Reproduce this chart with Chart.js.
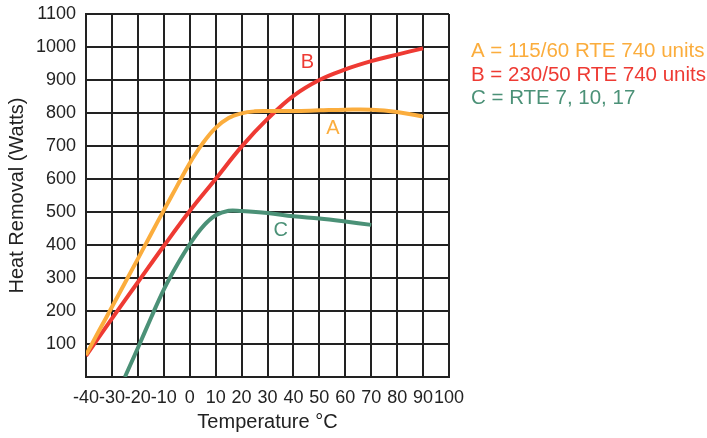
<!DOCTYPE html>
<html>
<head>
<meta charset="utf-8">
<script src="https://cdn.jsdelivr.net/npm/chart.js@4"></script>
<style>
html,body{margin:0;padding:0;background:#fff;}
#wrap{width:707px;height:438px;position:relative;}
</style>
</head>
<body>
<div id="wrap"><canvas id="c" width="707" height="438"></canvas></div>
<script>
// ---- data ----
const tempA = [-40,-35,-30,-25,-20,-15,-10,-5,0,5,10,15,20,25,30,40,50,60,70,80,90];
const heatA = [67,140,212,285,358,432,505,577,648,708,755,785,799,805,806,806,808,810,810,803,789];

const tempB = [-40,-30,-20,-10,0,10,20,30,40,50,60,70,80,90];
const heatB = [64,177,287,397,503,600,698,782,852,900,932,957,977,996];

const tempC = [-25,-20,-15,-10,-5,0,5,10,15,20,30,40,50,60,70];
const heatC = [0,88,178,265,338,402,455,490,504,503,497,487,480,471,461];

const seriesNames = ['A','B','C'];
const legendLines = ['A = 115/60 RTE 740 units','B = 230/50 RTE 740 units','C = RTE 7, 10, 17'];
const curveLabelX = [55.2, 45.4, 35.1];
const curveLabelY = [753, 953, 444];

const xMin = -40, xMax = 100, xStep = 10;
const yMin = 0, yMax = 1100, yStep = 100;
const xTitle = 'Temperature °C';
const yTitle = 'Heat Removal (Watts)';

const colors = ['#FBAD3D','#EE3A33','#4B9177'];
const FONT = "'Liberation Sans', Arial, sans-serif";

function pts(xs, ys){ return xs.map((x,i)=>({x:x,y:ys[i]})); }

const labelPlugin = {
  id:'labels',
  afterDatasetsDraw(chart){
    const ctx = chart.ctx, xs = chart.scales.x, ys = chart.scales.y;
    ctx.save();
    ctx.font = '20px ' + FONT;
    ctx.textAlign = 'center';
    ctx.textBaseline = 'middle';
    seriesNames.forEach((n,i)=>{
      ctx.fillStyle = colors[i];
      ctx.fillText(n, xs.getPixelForValue(curveLabelX[i]), ys.getPixelForValue(curveLabelY[i]));
    });
    ctx.textAlign = 'left';
    ctx.textBaseline = 'alphabetic';
    ctx.font = '20.5px ' + FONT;
    legendLines.forEach((t,i)=>{
      ctx.fillStyle = colors[i];
      ctx.fillText(t, 471, 57 + i*23.5);
    });
    ctx.restore();
  }
};

new Chart(document.getElementById('c'), {
  type:'scatter',
  data:{
    datasets:[
      {label:'A', data:pts(tempA,heatA), borderColor:colors[0]},
      {label:'B', data:pts(tempB,heatB), borderColor:colors[1]},
      {label:'C', data:pts(tempC,heatC), borderColor:colors[2]}
    ].map(d=>Object.assign(d,{showLine:true, borderWidth:4, pointRadius:0, pointHoverRadius:0, tension:0.4, fill:false, borderCapStyle:'butt'}))
  },
  options:{
    responsive:false,
    animation:false,
    layout:{padding:{left:0,right:258,top:14,bottom:0}},
    plugins:{legend:{display:false}, tooltip:{enabled:false}},
    scales:{
      x:{
        type:'linear', min:xMin, max:xMax,
        afterFit(s){ s.height = 61; s.paddingLeft = 0; s.paddingRight = 0; },
        ticks:{stepSize:xStep, autoSkip:false, maxRotation:0, color:'#222', padding:10, font:{family:FONT,size:18}},
        grid:{color:'#222', lineWidth:2, drawTicks:false},
        border:{color:'#222', width:2},
        title:{display:true, text:xTitle, color:'#222', font:{family:FONT,size:20}, padding:{top:0,bottom:4}}
      },
      y:{
        min:yMin, max:yMax,
        afterFit(s){ s.width = 86; s.paddingTop = 0; s.paddingBottom = 0; },
        ticks:{stepSize:yStep, color:'#222', padding:10, font:{family:FONT,size:18},
          callback:(v)=> v===0 ? '' : String(v)},
        grid:{color:'#222', lineWidth:2, drawTicks:false},
        border:{color:'#222', width:2},
        title:{display:true, text:yTitle, color:'#222', font:{family:FONT,size:20}, padding:{top:5,bottom:0}}
      }
    }
  },
  plugins:[labelPlugin]
});
</script>
</body>
</html>
